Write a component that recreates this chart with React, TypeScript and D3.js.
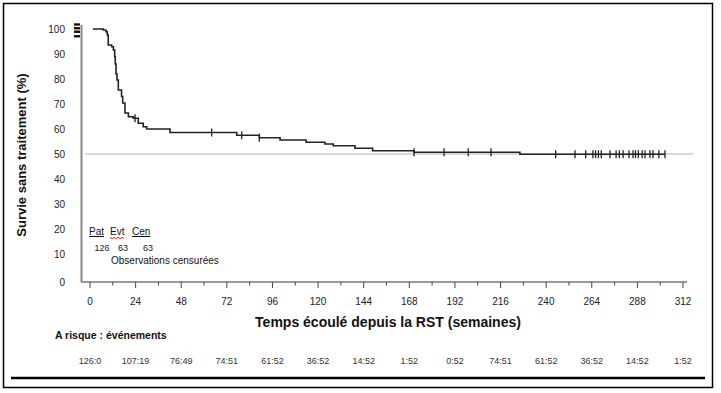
import React from "react";
import * as d3 from "d3";

// Kaplan-Meier steps (weeks, % without treatment)
const startTime = 1.5;
const stepTimes = [7, 8.4, 9.1, 9.6, 11.4, 12.3, 13, 13.3, 13.7, 14.2, 14.9, 16.6, 17.2, 18.4, 20.2, 22.8, 25.4, 28, 29.8, 42.1, 77.2, 89.1, 100, 113.7, 123.6, 128, 139.4, 148.7, 170.5, 226.2];
const stepSurv = [99.6, 98.9, 97.6, 93.6, 92.9, 91.6, 88.9, 86, 82, 79.6, 75.6, 73, 70.4, 66.4, 64.9, 64.3, 62.3, 60.9, 60, 58.6, 57.5, 56.5, 55.6, 54.7, 54, 53.3, 52.3, 51.3, 50.7, 49.9];
const endTime = 302.5;
const censorTimes = [23.7, 64, 79.8, 89.1, 170.5, 186.3, 199, 211, 245, 255.2, 260.8, 264.6, 266, 267.5, 269, 273.6, 276.8, 278.5, 280.5, 283.6, 285.7, 287, 288.5, 290.5, 292, 294.6, 296.2, 299.3, 302.5];

const xTicks = [0, 24, 48, 72, 96, 120, 144, 168, 192, 216, 240, 264, 288, 312];
const xMinorTicks = [12, 36, 60, 84, 108, 132, 156, 180, 204, 228, 252, 276, 300];
const yTicks = [0, 10, 20, 30, 40, 50, 60, 70, 80, 90, 100];
const refLevel = 50;
const riskLabels = ["126:0", "107:19", "76:49", "74:51", "61:52", "36:52", "14:52", "1:52", "0:52", "74:51", "61:52", "36:52", "14:52", "1:52"];
const legendHeads = ["Pat", "Evt", "Cen"];
const legendValues = ["126", "63", "63"];
const stackMarks = [101.8, 100.3, 98.9, 97.1];

const FONT = "'Liberation Sans', Arial, sans-serif";

const App = () => {
    const x = d3.scaleLinear().domain([0, 312]).range([90, 683]);
    const y = d3.scaleLinear().domain([0, 100]).range([279, 29]);

    const pts: [number, number][] = [[startTime, 100]];
    stepTimes.forEach((t, i) => pts.push([t, stepSurv[i]]));
    pts.push([endTime, stepSurv[stepSurv.length - 1]]);

    const line = d3.line<[number, number]>()
        .x(d => x(d[0]))
        .y(d => y(d[1]))
        .curve(d3.curveStepAfter);

    // survival at time t (step function)
    const survAt = (t: number) => {
        const i = d3.bisectRight(stepTimes, t);
        return i === 0 ? 100 : stepSurv[i - 1];
    };

    const axisY = 282;
    const legendX = [89, 110, 132];
    const legendValX = [102, 123, 148];

    // red spell-check squiggle under "Evt"
    const squiggle = d3.range(0, 8).map(i => [110 + i * 2, 237.5 + (i % 2 ? 1.2 : -0.2)] as [number, number]);

    return (
        <svg width={721} height={393} style={{ position: "absolute", left: 0, top: 0, background: "#fff" }} fontFamily={FONT}>
            <rect x={3.5} y={3.5} width={709} height={384} fill="none" stroke="#000" strokeWidth={1.5} />

            {/* y axis */}
            <line x1={81.5} x2={81.5} y1={25} y2={axisY} stroke="#888" strokeWidth={2} />
            {yTicks.map(v => (
                <text key={v} x={65} y={y(v) + (v === 0 ? 6.5 : 3.5)} textAnchor="end" fontSize={10} fill="#222">{v}</text>
            ))}
            {stackMarks.map((v, i) => (
                <rect key={i} x={74} y={y(v) - 1.2} width={6} height={2.4} fill="#111" />
            ))}
            <text transform="translate(26,155) rotate(-90)" textAnchor="middle" fontSize={13} fontWeight="bold" fill="#111">
                Survie sans traitement (%)
            </text>

            {/* x axis */}
            <line x1={81} x2={687} y1={axisY} y2={axisY} stroke="#777" strokeWidth={1.5} />
            {xTicks.map(t => (
                <g key={t}>
                    <line x1={x(t)} x2={x(t)} y1={axisY} y2={axisY + 6} stroke="#444" strokeWidth={1} />
                    <text x={x(t)} y={305} textAnchor="middle" fontSize={10} fill="#222">{t}</text>
                </g>
            ))}
            {xMinorTicks.map(t => (
                <line key={t} x1={x(t)} x2={x(t)} y1={axisY} y2={axisY + 3.5} stroke="#444" strokeWidth={1} />
            ))}
            <text x={388} y={327} textAnchor="middle" fontSize={14} fontWeight="bold" fill="#111">
                Temps écoulé depuis la RST (semaines)
            </text>

            {/* reference line */}
            <line x1={85} x2={693} y1={y(refLevel)} y2={y(refLevel)} stroke="#ccc" strokeWidth={1.5} />

            {/* survival curve */}
            <path d={line(pts) ?? ""} fill="none" stroke="#222" strokeWidth={1.6} />
            {censorTimes.map((t, i) => (
                <line key={i} x1={x(t)} x2={x(t)} y1={y(survAt(t)) - 4} y2={y(survAt(t)) + 4} stroke="#222" strokeWidth={1.3} />
            ))}

            {/* legend */}
            {legendHeads.map((h, i) => (
                <text key={h} x={legendX[i]} y={235} fontSize={10} fill="#111" textDecoration={i === 1 ? "none" : "underline"}>{h}</text>
            ))}
            <path d={d3.line()(squiggle) ?? ""} fill="none" stroke="#d22" strokeWidth={1} />
            {legendValues.map((v, i) => (
                <text key={i} x={legendValX[i]} y={251} textAnchor="middle" fontSize={9} fill="#222">{v}</text>
            ))}
            <text x={111} y={264} fontSize={10} fill="#111">Observations censurées</text>

            {/* numbers at risk */}
            <text x={55} y={339} fontSize={10.5} fontWeight="bold" fill="#111">A risque : événements</text>
            {riskLabels.map((r, i) => (
                <text key={i} x={x(xTicks[i])} y={364} textAnchor="middle" fontSize={9} fill="#333">{r}</text>
            ))}
            <line x1={11} x2={705} y1={378} y2={378} stroke="#000" strokeWidth={2.5} />
        </svg>
    );
};

export default App;
